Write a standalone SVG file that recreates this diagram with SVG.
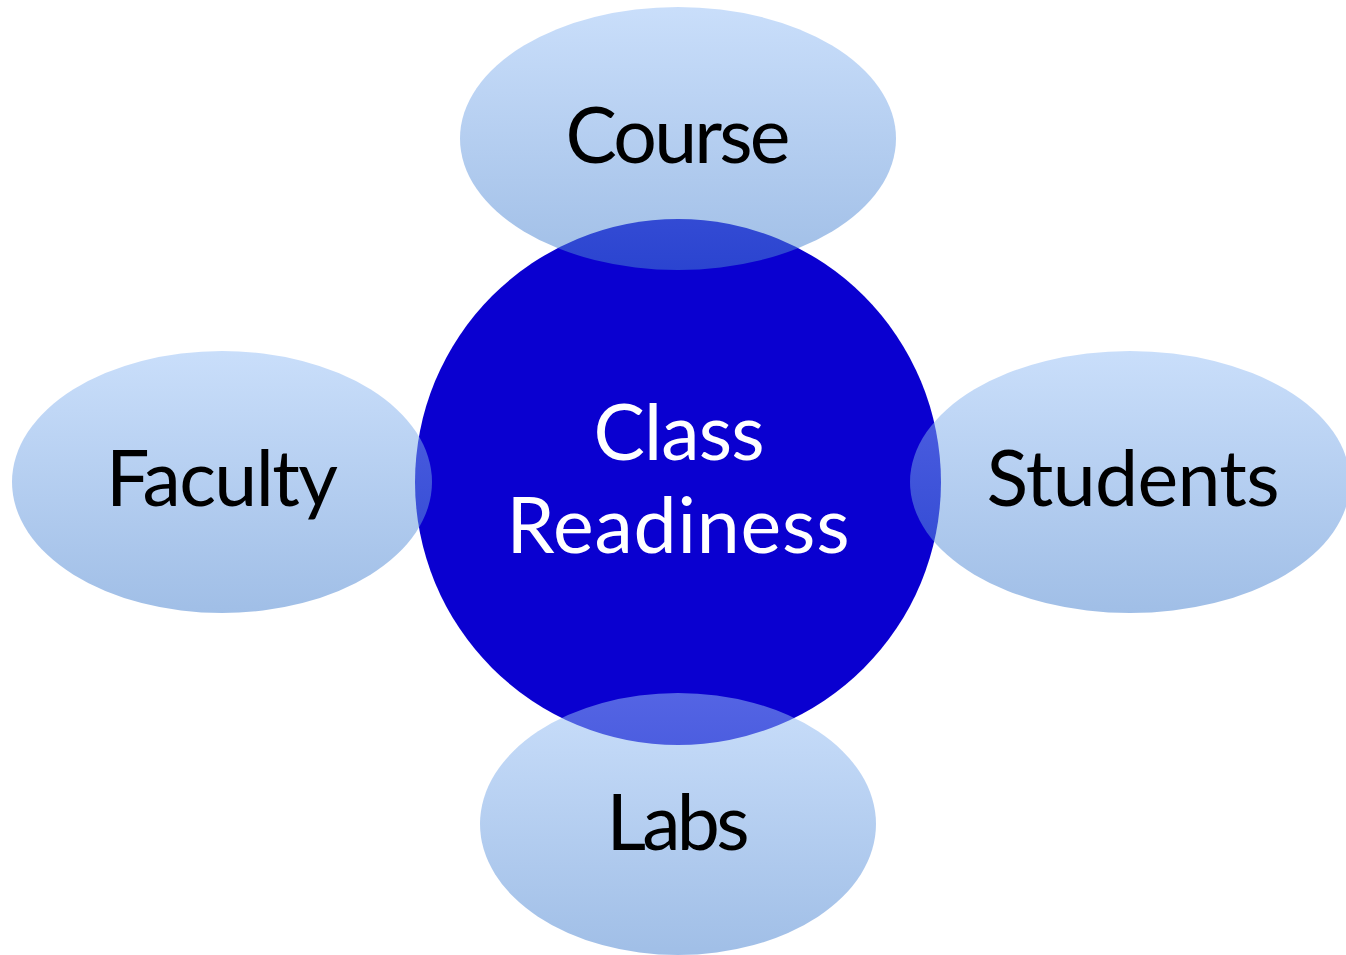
<svg xmlns="http://www.w3.org/2000/svg" width="1346" height="955" viewBox="0 0 1346 955">
<defs>
<linearGradient id="g" x1="0" y1="0" x2="0" y2="1">
<stop offset="0" stop-color="#98c0f6"/>
<stop offset="1" stop-color="#4983d0"/>
</linearGradient>
<style>
.ell{fill:url(#g);fill-opacity:0.52}
.lbl{font-family:Lato,"Open Sans","Liberation Sans",sans-serif;font-size:77px;text-anchor:middle;fill:#000}
.ctr{font-family:Lato,"Open Sans","Liberation Sans",sans-serif;font-size:77px;text-anchor:middle;fill:#fff}
</style>
</defs>
<rect width="1346" height="955" fill="#fff"/>
<g id="center">
<circle cx="678" cy="482" r="263" fill="#0a00d0"/>
<text class="ctr" x="679" y="460" textLength="171">Class</text>
<text class="ctr" x="678" y="553" textLength="343">Readiness</text>
</g>
<g id="course">
<ellipse class="ell" cx="678" cy="138.5" rx="218" ry="131.5"/>
<text class="lbl" x="678" y="163" textLength="225">Course</text>
</g>
<g id="faculty">
<ellipse class="ell" cx="222" cy="482" rx="210" ry="131"/>
<text class="lbl" x="222" y="506" textLength="232">Faculty</text>
</g>
<g id="students">
<ellipse class="ell" cx="1130" cy="482" rx="220" ry="131"/>
<text class="lbl" x="1133" y="506" textLength="293">Students</text>
</g>
<g id="labs">
<ellipse class="ell" cx="678" cy="824" rx="198" ry="131"/>
<text class="lbl" x="678" y="850" textLength="143">Labs</text>
</g>
<g id="connectors"/>
</svg>
